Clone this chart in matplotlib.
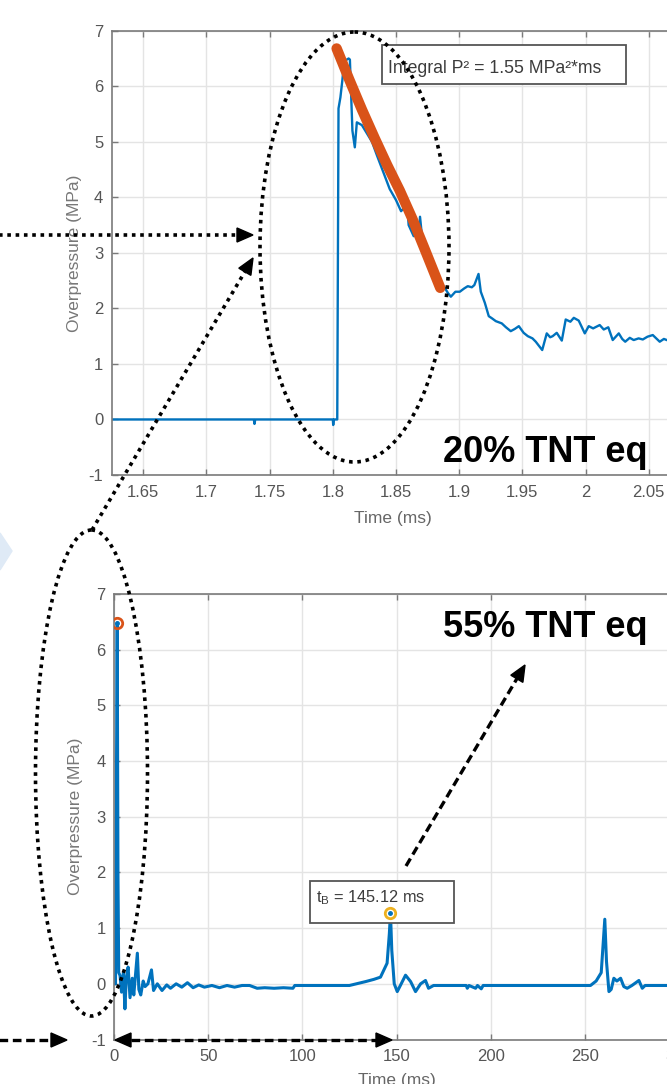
import matplotlib
matplotlib.use("Agg")
import matplotlib.pyplot as plt
import numpy as np
from matplotlib.patches import Ellipse, Polygon, Rectangle

plt.rcParams["font.family"] = ["Liberation Sans", "DejaVu Sans"]
plt.rcParams["mathtext.fontset"] = "custom"
plt.rcParams["mathtext.rm"] = "Liberation Sans"
plt.rcParams["axes.unicode_minus"] = False

# ---- data: 20% TNT eq, zoom on the first shock (time in ms, pressure in MPa)
t_zoom = [1.625, 1.7375, 1.738, 1.7386, 1.800, 1.8003, 1.8008, 1.8035, 1.8045,
          1.806, 1.8075, 1.809, 1.8125, 1.8135, 1.8155, 1.8174, 1.819, 1.823,
          1.827, 1.831, 1.835, 1.840, 1.845, 1.850, 1.854, 1.856, 1.859, 1.860,
          1.864, 1.868, 1.869, 1.871, 1.874, 1.877, 1.880, 1.883, 1.886, 1.8886,
          1.891, 1.8934, 1.897, 1.9005, 1.904, 1.9068, 1.910, 1.912, 1.9153,
          1.9171, 1.9203, 1.9234, 1.926, 1.929, 1.9337, 1.937, 1.9408, 1.944,
          1.9472, 1.951, 1.9543, 1.958, 1.9606, 1.9657, 1.9693, 1.972, 1.974,
          1.9772, 1.9812, 1.9843, 1.988, 1.9907, 1.9946, 1.9994, 2.0025, 2.006,
          2.0112, 2.0144, 2.018, 2.0215, 2.0263, 2.029, 2.0314, 2.035, 2.0381,
          2.042, 2.0453, 2.049, 2.0532, 2.0587, 2.062, 2.070]
p_zoom = [0.0, 0.0, -0.08, 0.0, 0.0, -0.1, 0.0, 0.0, 5.6,
          5.8, 6.1, 6.45, 6.5, 6.48, 5.2, 4.9, 5.35, 5.3,
          5.15, 5.0, 4.75, 4.45, 4.15, 3.95, 3.75, 3.8, 3.82, 3.5,
          3.3, 3.35, 3.65, 3.2, 3.15, 2.95, 2.75, 2.6, 2.42, 2.37,
          2.28, 2.21, 2.3, 2.3, 2.36, 2.4, 2.38, 2.42, 2.62,
          2.3, 2.1, 1.86, 1.82, 1.77, 1.73, 1.66, 1.59, 1.63,
          1.68, 1.56, 1.5, 1.46, 1.4, 1.25, 1.55, 1.48, 1.5,
          1.56, 1.42, 1.8, 1.76, 1.83, 1.78, 1.55, 1.68, 1.64,
          1.7, 1.62, 1.66, 1.43, 1.55, 1.45, 1.4, 1.47, 1.43,
          1.46, 1.44, 1.49, 1.52, 1.4, 1.45, 1.38]

# decay fit used for the impulse integral
t_fit = [1.803, 1.813, 1.823, 1.833, 1.843, 1.853, 1.863, 1.873, 1.885]
p_fit = [6.68, 6.12, 5.58, 5.07, 4.58, 4.12, 3.61, 3.05, 2.37]

# ---- data: 55% TNT eq, full record
t_full = [0, 0.8, 1.2, 1.7, 2.1, 2.5, 3.2, 4.0, 5.0, 5.8, 6.5, 7.5, 8.5, 9.7,
          10.5, 12.4, 13.2, 14.2, 15.5, 16.5, 18.0, 19.9, 21.0, 23, 25.5, 28,
          30, 33, 36, 39, 42, 45, 48, 52, 56, 60, 64, 68, 72, 76, 80, 85, 90,
          95, 96, 110, 125, 133.6, 138, 141.5, 145, 146.2, 146.8, 147.5, 148.8,
          150.4, 152.5, 154.8, 157.5, 160.1, 162.8, 165.4, 167, 169.7, 175, 187,
          187.6, 188.5, 192, 193, 195, 196, 220, 253, 256, 258.7, 260.6, 261.5,
          262.8, 264, 265.4, 267, 269, 270.7, 272.5, 275, 278.7, 280.5, 282, 300]
p_full = [0.0, 0.0, 3.0, 6.48, 2.0, 0.2, 0.15, -0.15, 0.2, -0.45, 0.1, 0.3,
          -0.25, 0.1, -0.2, 0.55, -0.1, -0.2, 0.05, -0.05, 0.0, 0.25, -0.12,
          0.0, -0.12, -0.02, -0.08, 0.0, -0.06, 0.02, -0.07, -0.02, -0.06,
          -0.03, -0.07, -0.03, -0.06, -0.03, -0.03, -0.08, -0.07, -0.08, -0.07,
          -0.08, -0.03, -0.03, -0.03, 0.04, 0.08, 0.12, 0.37, 0.9, 1.27, 0.6,
          0.0, -0.14, 0.0, 0.155, 0.04, -0.14, 0.0, 0.06, -0.08, -0.03, -0.03,
          -0.03, -0.08, -0.03, -0.08, -0.03, -0.09, -0.03, -0.03, -0.03, 0.05,
          0.2, 1.16, 0.4, -0.14, -0.1, 0.1, 0.05, 0.1, -0.05, -0.08, -0.03,
          0.06, -0.08, -0.03, -0.03]
peak_t = [1.7, 146.8]
peak_p = [6.48, 1.27]
peak_colors = ["#D95319", "#EDB120"]

zoom_ticks = [1.65, 1.7, 1.75, 1.8, 1.85, 1.9, 1.95, 2.0, 2.05]
zoom_labels = ["1.65", "1.7", "1.75", "1.8", "1.85", "1.9", "1.95", "2", "2.05"]
full_ticks = [0, 50, 100, 150, 200, 250, 300]
y_ticks = list(range(-1, 8))

BLUE = "#0072BD"
W, H = 667, 1084


def px_axes(fig, left, top, right, bottom, **kw):
    return fig.add_axes([left / W, 1 - bottom / H, (right - left) / W, (bottom - top) / H], **kw)


def style(ax):
    ax.grid(True, color="#e4e4e4", lw=1.0)
    ax.set_axisbelow(True)
    for s in ax.spines.values():
        s.set_color("#7a7a7a")
        s.set_linewidth(1.2)
    ax.tick_params(direction="in", top=True, right=True, length=4, width=1,
                   color="#7a7a7a", labelcolor="#555555", labelsize=12)
    ax.tick_params(axis="x", pad=7)
    ax.tick_params(axis="y", pad=6)
    ax.set_yticks(y_ticks)
    ax.set_ylim(-1, 7)


def head(ax, tip, tail, L=16, Wd=14):
    tip = np.array(tip, float)
    d = tip - np.array(tail, float)
    d /= np.hypot(*d)
    n = np.array([-d[1], d[0]])
    base = tip - d * L
    ax.add_patch(Polygon([tip, base + n * Wd / 2, base - n * Wd / 2],
                         closed=True, color="k", zorder=6))
    return base


def arrow(ax, tail, tip, ls, lw, both=False):
    end = head(ax, tip, tail)
    start = head(ax, tail, tip) if both else np.array(tail, float)
    ax.plot([start[0], end[0]], [start[1], end[1]], color="k", lw=lw, ls=ls,
            dash_capstyle="butt", zorder=5)


def main():
    fig = plt.figure(figsize=(W / 100, H / 100), dpi=100)

    # overlay in pixel coordinates for the annotations (drawn above the charts)
    ov = fig.add_axes([0, 0, 1, 1], zorder=10)
    ov.set_xlim(0, W)
    ov.set_ylim(H, 0)
    ov.axis("off")
    px = ov.transData

    # top chart
    ax1 = px_axes(fig, 111.7, 30.7, 674, 475)
    style(ax1)
    ax1.plot(t_zoom, p_zoom, color=BLUE, lw=1.7)
    ax1.plot(t_fit, p_fit, color="#D95319", lw=7.5, solid_capstyle="round")
    ax1.set_xlim(1.625, 2.07)
    ax1.set_xticks(zoom_ticks)
    ax1.set_xticklabels(zoom_labels)
    ax1.set_xlabel("Time (ms)", fontsize=12.5, color="#666666")
    ax1.set_ylabel("Overpressure (MPa)", fontsize=12.5, color="#777777")
    ax1.xaxis.set_label_coords(0.5, -0.08)
    ax1.yaxis.set_label_coords(-0.053, 0.5)
    ax1.add_patch(Rectangle((381.7, 45), 244.3, 39.3, transform=px, fc="white",
                            ec="#555555", lw=1.3, zorder=3))
    ax1.text(388, 73, "Integral P² = 1.55 MPa²*ms", fontsize=12.7, transform=px,
             color="#3c3c3c", va="baseline", zorder=4)

    # bottom chart
    ax2 = px_axes(fig, 114, 594, 679, 1039.5)
    style(ax2)
    ax2.plot(t_full, p_full, color=BLUE, lw=2.2)
    ax2.add_patch(Rectangle((310, 881), 144.3, 42, transform=px, fc="white",
                            ec="#555555", lw=1.3, zorder=3))
    ax2.text(316, 902, r"$\mathregular{t_B}$ = 145.12 ms", fontsize=11.8, transform=px,
             color="#3c3c3c", va="baseline", zorder=4)
    for t, p, c in zip(peak_t, peak_p, peak_colors):
        ax2.plot([t], [p], "o", ms=7.5, mfc="none", mec=c, mew=2.0, zorder=5)
        ax2.plot([t], [p], "o", ms=2.5, color=BLUE, zorder=5)
    ax2.set_xlim(0, 300)
    ax2.set_xticks(full_ticks)
    ax2.set_xlabel("Time (ms)", fontsize=12.5, color="#666666")
    ax2.set_ylabel("Overpressure (MPa)", fontsize=12.5, color="#777777")
    ax2.xaxis.set_label_coords(0.5, -0.075)
    ax2.yaxis.set_label_coords(-0.055, 0.5)

    ov.add_patch(Polygon([[0, 533], [12, 551], [0, 570]], color="#dfeaf6", zorder=1))

    dot = (0, (1, 1.3))
    dash = (0, (2.6, 1.4))
    ov.add_patch(Ellipse((354.5, 247), 189, 430, fill=False, ec="k", lw=2.6, ls=dot))
    ov.add_patch(Ellipse((91.5, 773), 112, 486, fill=False, ec="k", lw=2.6, ls=dot))
    arrow(ov, (-5, 235), (253, 235), dot, 2.6)
    arrow(ov, (92, 530), (253, 258), dot, 2.6)
    arrow(ov, (406, 866), (525, 665), dash, 2.4)
    arrow(ov, (-5, 1040), (67, 1040), dash, 2.4)
    arrow(ov, (115, 1040), (392, 1040), dash, 2.4, both=True)

    ov.text(443, 461.7, "20% TNT eq", fontsize=26, fontweight="bold",
            va="baseline", color="k", zorder=4)
    ov.text(443, 637, "55% TNT eq", fontsize=26, fontweight="bold",
            va="baseline", color="k", zorder=4)

    fig.savefig("out.png", dpi=100)
    plt.close(fig)


if __name__ == "__main__":
    main()
